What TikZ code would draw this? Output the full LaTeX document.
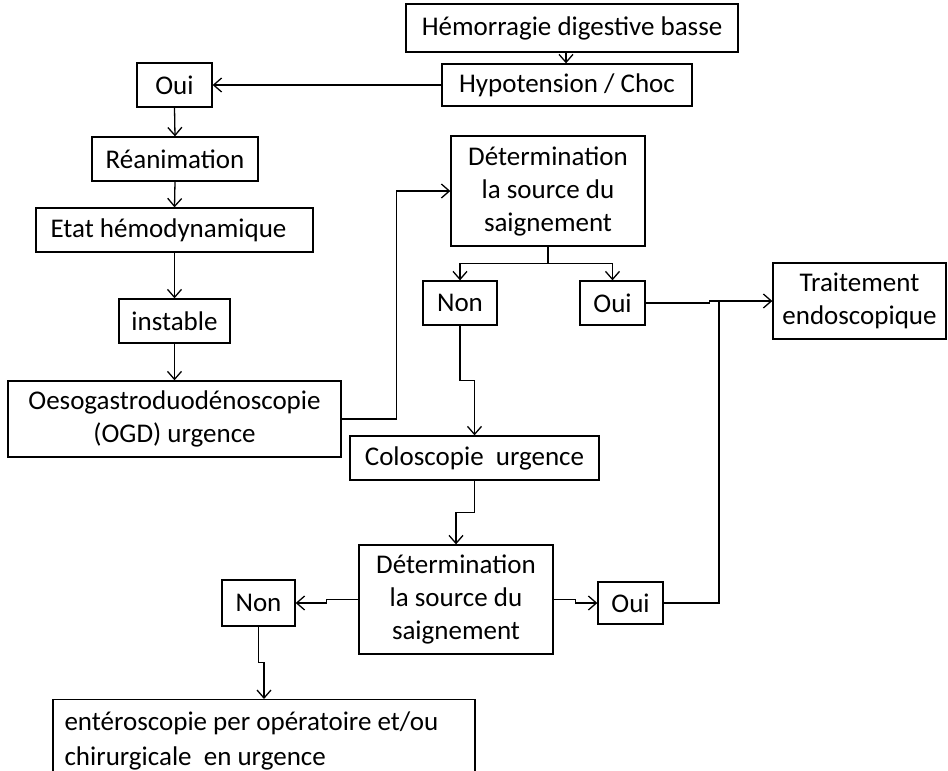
\documentclass[tikz,border=0pt]{standalone}
\usepackage{fontspec}
\setmainfont{Carlito}
\usetikzlibrary{arrows.meta}
\begin{document}
\begin{tikzpicture}[x=1pt,y=-1pt,
  box/.style={draw, line width=1.3pt, inner sep=0pt, align=center,
              font=\fontsize{27}{33}\selectfont},
  link/.style={line width=1.3pt},
  arr/.style={link, -{Straight Barb[length=8pt,width=14pt,line width=1.3pt]}}]
\clip (0,0) rectangle (948,771);
\fill[white] (0,0) rectangle (948,771);

% left column
\node[box, minimum width=332, minimum height=48] (hdb)  at (572,28)    {Hémorragie digestive basse};
\node[box, minimum width=250, minimum height=42] (hypo) at (567,85)    {Hypotension / Choc};
\node[box, minimum width=75,  minimum height=44] (oui1) at (174.5,85)  {Oui};
\node[box, minimum width=166, minimum height=44] (rea)  at (175,159)   {Réanimation};
\node[box, minimum width=277, minimum height=44] (etat) at (174.5,230) {Etat hémodynamique\hspace{12pt}};
\node[box, minimum width=111, minimum height=44] (inst) at (174.5,321) {instable};
\node[box, minimum width=333, minimum height=76] (ogd)  at (174.5,419) {Oesogastroduodénoscopie\\(OGD) urgence};

% first search for the source
\node[box, minimum width=194, minimum height=110] (det1) at (548,191)   {Détermination\\la source du\\saignement};
\node[box, minimum width=74,  minimum height=44]  (non1) at (460,303)   {Non};
\node[box, minimum width=65,  minimum height=44]  (oui2) at (612.5,303) {Oui};
\node[box, minimum width=173, minimum height=76]  (trait) at (859.5,301) {Traitement\\endoscopique};

% colonoscopy and second search
\node[box, minimum width=249, minimum height=44]  (colo) at (474.5,458) {Coloscopie~ urgence};
\node[box, minimum width=194, minimum height=109] (det2) at (456,599.5) {Détermination\\la source du\\saignement};
\node[box, minimum width=65,  minimum height=42]  (oui3) at (630.5,603) {Oui};
\node[box, minimum width=73,  minimum height=46]  (non2) at (258.5,603) {Non};

% last resort
\node[draw, line width=1.3pt, inner sep=0pt, minimum width=422, minimum height=110, anchor=north] (bot) at (264,699) {};
\node[anchor=north west, align=left, inner sep=0pt, font=\fontsize{27}{35}\selectfont]
  (bottxt) at ([xshift=12pt,yshift=-13pt]bot.north west)
  {entéroscopie per opératoire et/ou\\chirurgicale~ en urgence};

\coordinate (jn) at (719,301);

% connectors
\draw[arr] ([xshift=-6pt]hdb.south) -- ([xshift=-1pt]hypo.north);
\draw[arr] (hypo.west) -- (oui1.east);
\draw[arr] (oui1.south) -- (rea.north);
\draw[arr] (rea.south) -- (etat.north);
\draw[arr] (etat.south) -- (inst.north);
\draw[arr] (inst.south) -- (ogd.north);
\draw[arr] (ogd.east) -- ++(55,0) |- (det1.west);
\draw[arr] (det1.south) -- ++(0,17) -| (non1.north);
\draw[arr] (det1.south) -- ++(0,17) -| (oui2.north);
\draw[arr] (oui2.east) -- ++(64,0) -- ++(0,-2) -- (trait.west);
\draw[link] (oui3.east) -| (jn);
\draw[arr] (non1.south) -- ++(0,55) -| (colo.north);
\draw[arr] (colo.south) -- ++(0,32) -| (det2.north);
\draw[arr] (det2.west) -- ++(-32,0) -- ++(0,3.5) -- (non2.east);
\draw[arr] (det2.east) -- ++(22,0) -- ++(0,3.5) -- (oui3.west);
\draw[arr] (non2.south) -- ++(0,36) -| (bot.north);
\end{tikzpicture}
\end{document}
